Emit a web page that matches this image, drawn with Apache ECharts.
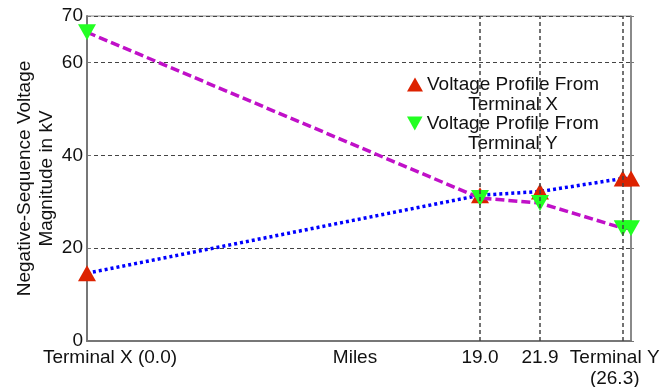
<!DOCTYPE html>
<html>
<head>
<meta charset="utf-8">
<script src="https://cdn.jsdelivr.net/npm/echarts@6/dist/echarts.min.js"></script>
<style>
  html, body {margin: 0; padding: 0; background: #fff;}
  #chart {width: 672px; height: 387px;}
</style>
</head>
<body>
<div id="chart"></div>
<script>
// miles along the line, and the voltage read at each point
const miles = [0, 19.0, 21.9, 25.9, 26.3];
const fromTerminalX = [14.6, 31.4, 32.2, 35.0, 35.0];
const fromTerminalY = [66.5, 30.8, 29.7, 24.3, 24.3];

const xTickValues = [0, 19.0, 21.9, 25.9];
const xTickLabels = ['Terminal X (0.0)', '19.0', '21.9', 'Terminal Y\n(26.3)'];
const xGridValues = [19.0, 21.9, 25.9];
const yTickValues = [0, 20, 40, 60, 70];

const seriesNames = ['Voltage Profile From Terminal X', 'Voltage Profile From Terminal Y'];

const font = 'Liberation Sans, Arial, sans-serif';
const fs = 19;
const chart = echarts.init(document.getElementById('chart'));

const legendText = (name) => {
  const parts = name.split(' Terminal ');
  return '{a|' + parts[0] + '}\n{a|Terminal ' + parts[1] + '}';
};
const legendBase = {
  orient: 'vertical',
  left: 402,
  itemWidth: 16,
  itemHeight: 14,
  itemGap: 0,
  selectedMode: false,
  formatter: legendText,
  textStyle: {
    fontFamily: font,
    fontSize: fs,
    color: '#111',
    padding: [20, 0, 0, 0],
    rich: {a: {width: 170, align: 'center', lineHeight: 20, fontSize: fs, fontFamily: font, color: '#111'}}
  }
};

chart.setOption({
  animation: false,
  textStyle: {fontFamily: font},
  grid: {left: 87, right: 41, top: 16, bottom: 46, outerBoundsMode: 'none', containLabel: false,
    show: true, borderColor: '#888', borderWidth: 1},
  legend: [
    Object.assign({}, legendBase, {top: 70, data: [{name: seriesNames[0], icon: 'triangle', itemStyle: {color: '#dd2200'}}]}),
    Object.assign({}, legendBase, {top: 109, data: [{name: seriesNames[1], icon: 'path://M0,0 L10,0 L5,9 Z', itemStyle: {color: '#22ff22'}}]})
  ],
  xAxis: {
    type: 'value',
    min: 0,
    max: 26.3,
    name: 'Miles',
    nameLocation: 'middle',
    nameGap: 7,
    nameMoveOverlap: false,
    nameTextStyle: {fontFamily: font, fontSize: fs, color: '#111', verticalAlign: 'top', padding: [0, 8, 0, 0]},
    axisLine: {show: true, lineStyle: {color: '#777', width: 2}},
    axisTick: {show: false},
    splitLine: {show: false},
    axisLabel: {
      customValues: xTickValues,
      margin: 6,
      fontFamily: font,
      fontSize: fs,
      color: '#111',
      lineHeight: 21,
      hideOverlap: false,
      formatter: (v) => {
        const i = xTickValues.indexOf(v);
        const t = xTickLabels[i];
        if (i === 0) return '{l|' + t + '}';
        if (i === xTickValues.length - 1) return t.split('\n').map(s => '{r|' + s + '}').join('\n');
        return t;
      },
      rich: {
        l: {padding: [0, 0, 0, 46], fontSize: fs, fontFamily: font, color: '#111', lineHeight: 21},
        r: {padding: [0, 16, 0, 0], fontSize: fs, fontFamily: font, color: '#111', lineHeight: 21}
      }
    }
  },
  yAxis: [{
    type: 'value',
    min: 0,
    max: 70,
    interval: 20,
    name: 'Negative-Sequence Voltage\nMagnitude in kV',
    nameLocation: 'middle',
    nameRotate: 90,
    nameGap: 29,
    nameMoveOverlap: false,
    nameTextStyle: {fontFamily: font, fontSize: fs, color: '#111', lineHeight: 22},
    axisLine: {show: true, lineStyle: {color: '#777', width: 2}},
    axisTick: {show: true, inside: true, length: 4, lineStyle: {color: '#777'}},
    axisLabel: {
      customValues: yTickValues,
      margin: 4,
      fontFamily: font,
      fontSize: fs,
      color: '#111'
    },
    splitLine: {show: true, lineStyle: {type: [4, 3], color: '#444', width: 1}}
  }, {
    type: 'value',
    min: 0,
    max: 70,
    interval: 20,
    position: 'right',
    axisLine: {show: true, lineStyle: {color: '#777', width: 1.5}},
    axisTick: {show: true, length: 3, lineStyle: {color: '#777'}},
    axisLabel: {show: false},
    splitLine: {show: false}
  }],
  series: [
    {
      name: seriesNames[0],
      type: 'line',
      data: miles.map((m, i) => [m, fromTerminalX[i]]),
      symbol: 'triangle',
      symbolSize: [18, 16],
      itemStyle: {color: '#dd2200'},
      lineStyle: {color: '#0000ff', width: 3.5, type: [3, 3]},
      z: 3,
      markLine: {
        silent: true,
        symbol: ['none', 'none'],
        label: {show: false},
        lineStyle: {type: [4, 3], color: '#444', width: 1.5},
        data: xGridValues.map(v => ({xAxis: v}))
      }
    },
    {
      name: seriesNames[1],
      type: 'line',
      data: miles.map((m, i) => [m, fromTerminalY[i]]),
      symbol: 'path://M0,0 L10,0 L5,9 Z',
      symbolSize: [18, 16],
      itemStyle: {color: '#22ff22'},
      lineStyle: {color: '#c010c8', width: 3.5, type: [9, 4]},
      z: 4
    }
  ]
});
</script>
</body>
</html>
